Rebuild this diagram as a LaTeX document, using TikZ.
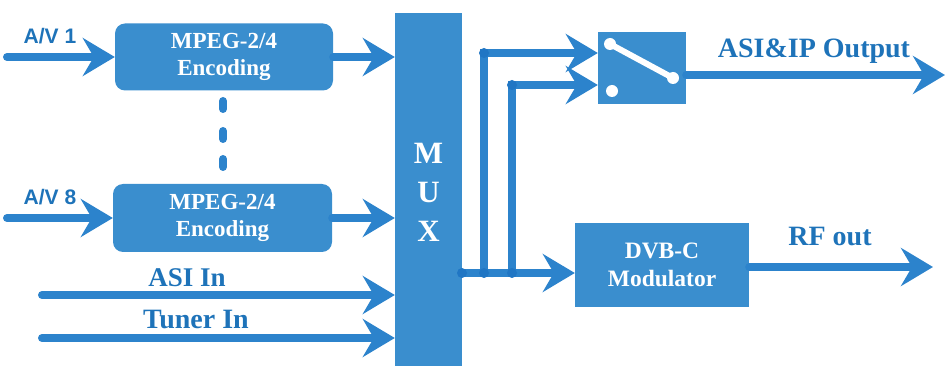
\documentclass[tikz,border=0pt]{standalone}
\usepackage{fontspec}
\setmainfont{Liberation Serif}
\newfontfamily\arialfont{Liberation Sans}
\usetikzlibrary{arrows.meta,calc}
\definecolor{boxblue}{RGB}{58,142,206}
\definecolor{lineblue}{RGB}{44,131,204}
\definecolor{dotblue}{RGB}{32,118,196}
\definecolor{textblue}{RGB}{30,115,185}
\tikzset{
  blk/.style={fill=boxblue, draw=none, inner sep=0pt, text=white, font=\bfseries\fontsize{23}{27}\selectfont, align=center},
  arr/.style={draw=lineblue, line width=8pt, line cap=round, -{Stealth[length=32pt,width=38pt,inset=11pt]}},
  plain/.style={draw=lineblue, line width=8pt, line cap=round},
  lbl/.style={text=textblue, font=\bfseries\fontsize{28}{30}\selectfont, inner sep=0pt},
  albl/.style={text=textblue, font=\arialfont\bfseries\fontsize{21}{24}\selectfont, inner sep=0pt},
  jdot/.style={circle, fill=dotblue, minimum size=10pt, inner sep=0pt},
  wdot/.style={circle, fill=white, minimum size=12pt, inner sep=0pt}
}
\begin{document}
\begin{tikzpicture}[x=1pt,y=-1pt]
\useasboundingbox (0,0) rectangle (946,366);
% blocks
\node[blk, rounded corners=10pt, minimum width=218pt, minimum height=67pt] (enc1) at (224,57) {MPEG-2/4\\Encoding};
\node[blk, rounded corners=10pt, minimum width=219pt, minimum height=68pt] (enc8) at (222.5,218) {MPEG-2/4\\Encoding};
\node[blk, minimum width=67pt, minimum height=353pt] (mux) at (428.5,189.5) {};
\node[text=white, font=\bfseries\fontsize{31}{39}\selectfont, align=center, inner sep=0pt] (muxtxt) at (428.5,192) {M\\U\\X};
\node[blk, minimum width=88pt, minimum height=72pt] (sw) at (642,68) {};
\node[blk, minimum width=174pt, minimum height=84pt, font=\bfseries\fontsize{23.5}{28}\selectfont] (dvb) at (662,265) {DVB-C\\Modulator};
% switch interior
\node[wdot] (s1) at (610,44) {};
\node[wdot] (s2) at (673,78) {};
\node[wdot] (s3) at (612,91) {};
\draw[white, line width=6pt, line cap=round] (s1.center) -- (s2.center);
% dots between encoders
\draw[plain] (223,101) -- (223,109);
\draw[plain] (223,131) -- (223,139);
\draw[plain] (223,159) -- (223,167);
% coordinates
\coordinate (av1) at (7,57);
\coordinate (av8) at (7,218);
\coordinate (asi) at (42,295);
\coordinate (tun) at (42,338);
\coordinate (muxout) at (462,273);
\coordinate (j1) at (484,273);
\coordinate (j2) at (512,273);
\coordinate (aout) at (945,75);
\coordinate (rfout) at (933,267);
% connectors
\draw[arr] (av1) -- (enc1.west);
\draw[arr] (av8) -- (enc8.west);
\draw[arr] (enc1.east) -- (enc1.east -| mux.west);
\draw[arr] (enc8.east) -- (enc8.east -| mux.west);
\draw[arr] (asi) -- (asi -| mux.west);
\draw[arr] (tun) -- (tun -| mux.west);
\draw[arr] (muxout) -- (muxout -| dvb.west);
\draw[arr] (j1) |- ([yshift=15pt]sw.west);
\draw[arr] (j2) |- ([yshift=-17pt]sw.west);
\draw[arr] (aout -| sw.east) -- (aout);
\draw[arr] (rfout -| dvb.east) -- (rfout);
\node[jdot] at (muxout) {};
\node[jdot] at (j1) {};
\node[jdot] at (j2) {};
\node[jdot] at (484,53) {};
\node[jdot] at (512,85) {};
% labels
\node[albl] (l1) at (50,36) {A/V 1};
\node[albl] (l8) at (50,197) {A/V 8};
\node[lbl, font=\bfseries\fontsize{27}{30}\selectfont] (lasi) at (187,278) {ASI In};
\node[lbl] (ltun) at (196,320) {Tuner In};
\node[lbl] (lout) at (814,51) {ASI\&IP Output};
\node[lbl] (lrf) at (830,237) {RF out};
\end{tikzpicture}
\end{document}
